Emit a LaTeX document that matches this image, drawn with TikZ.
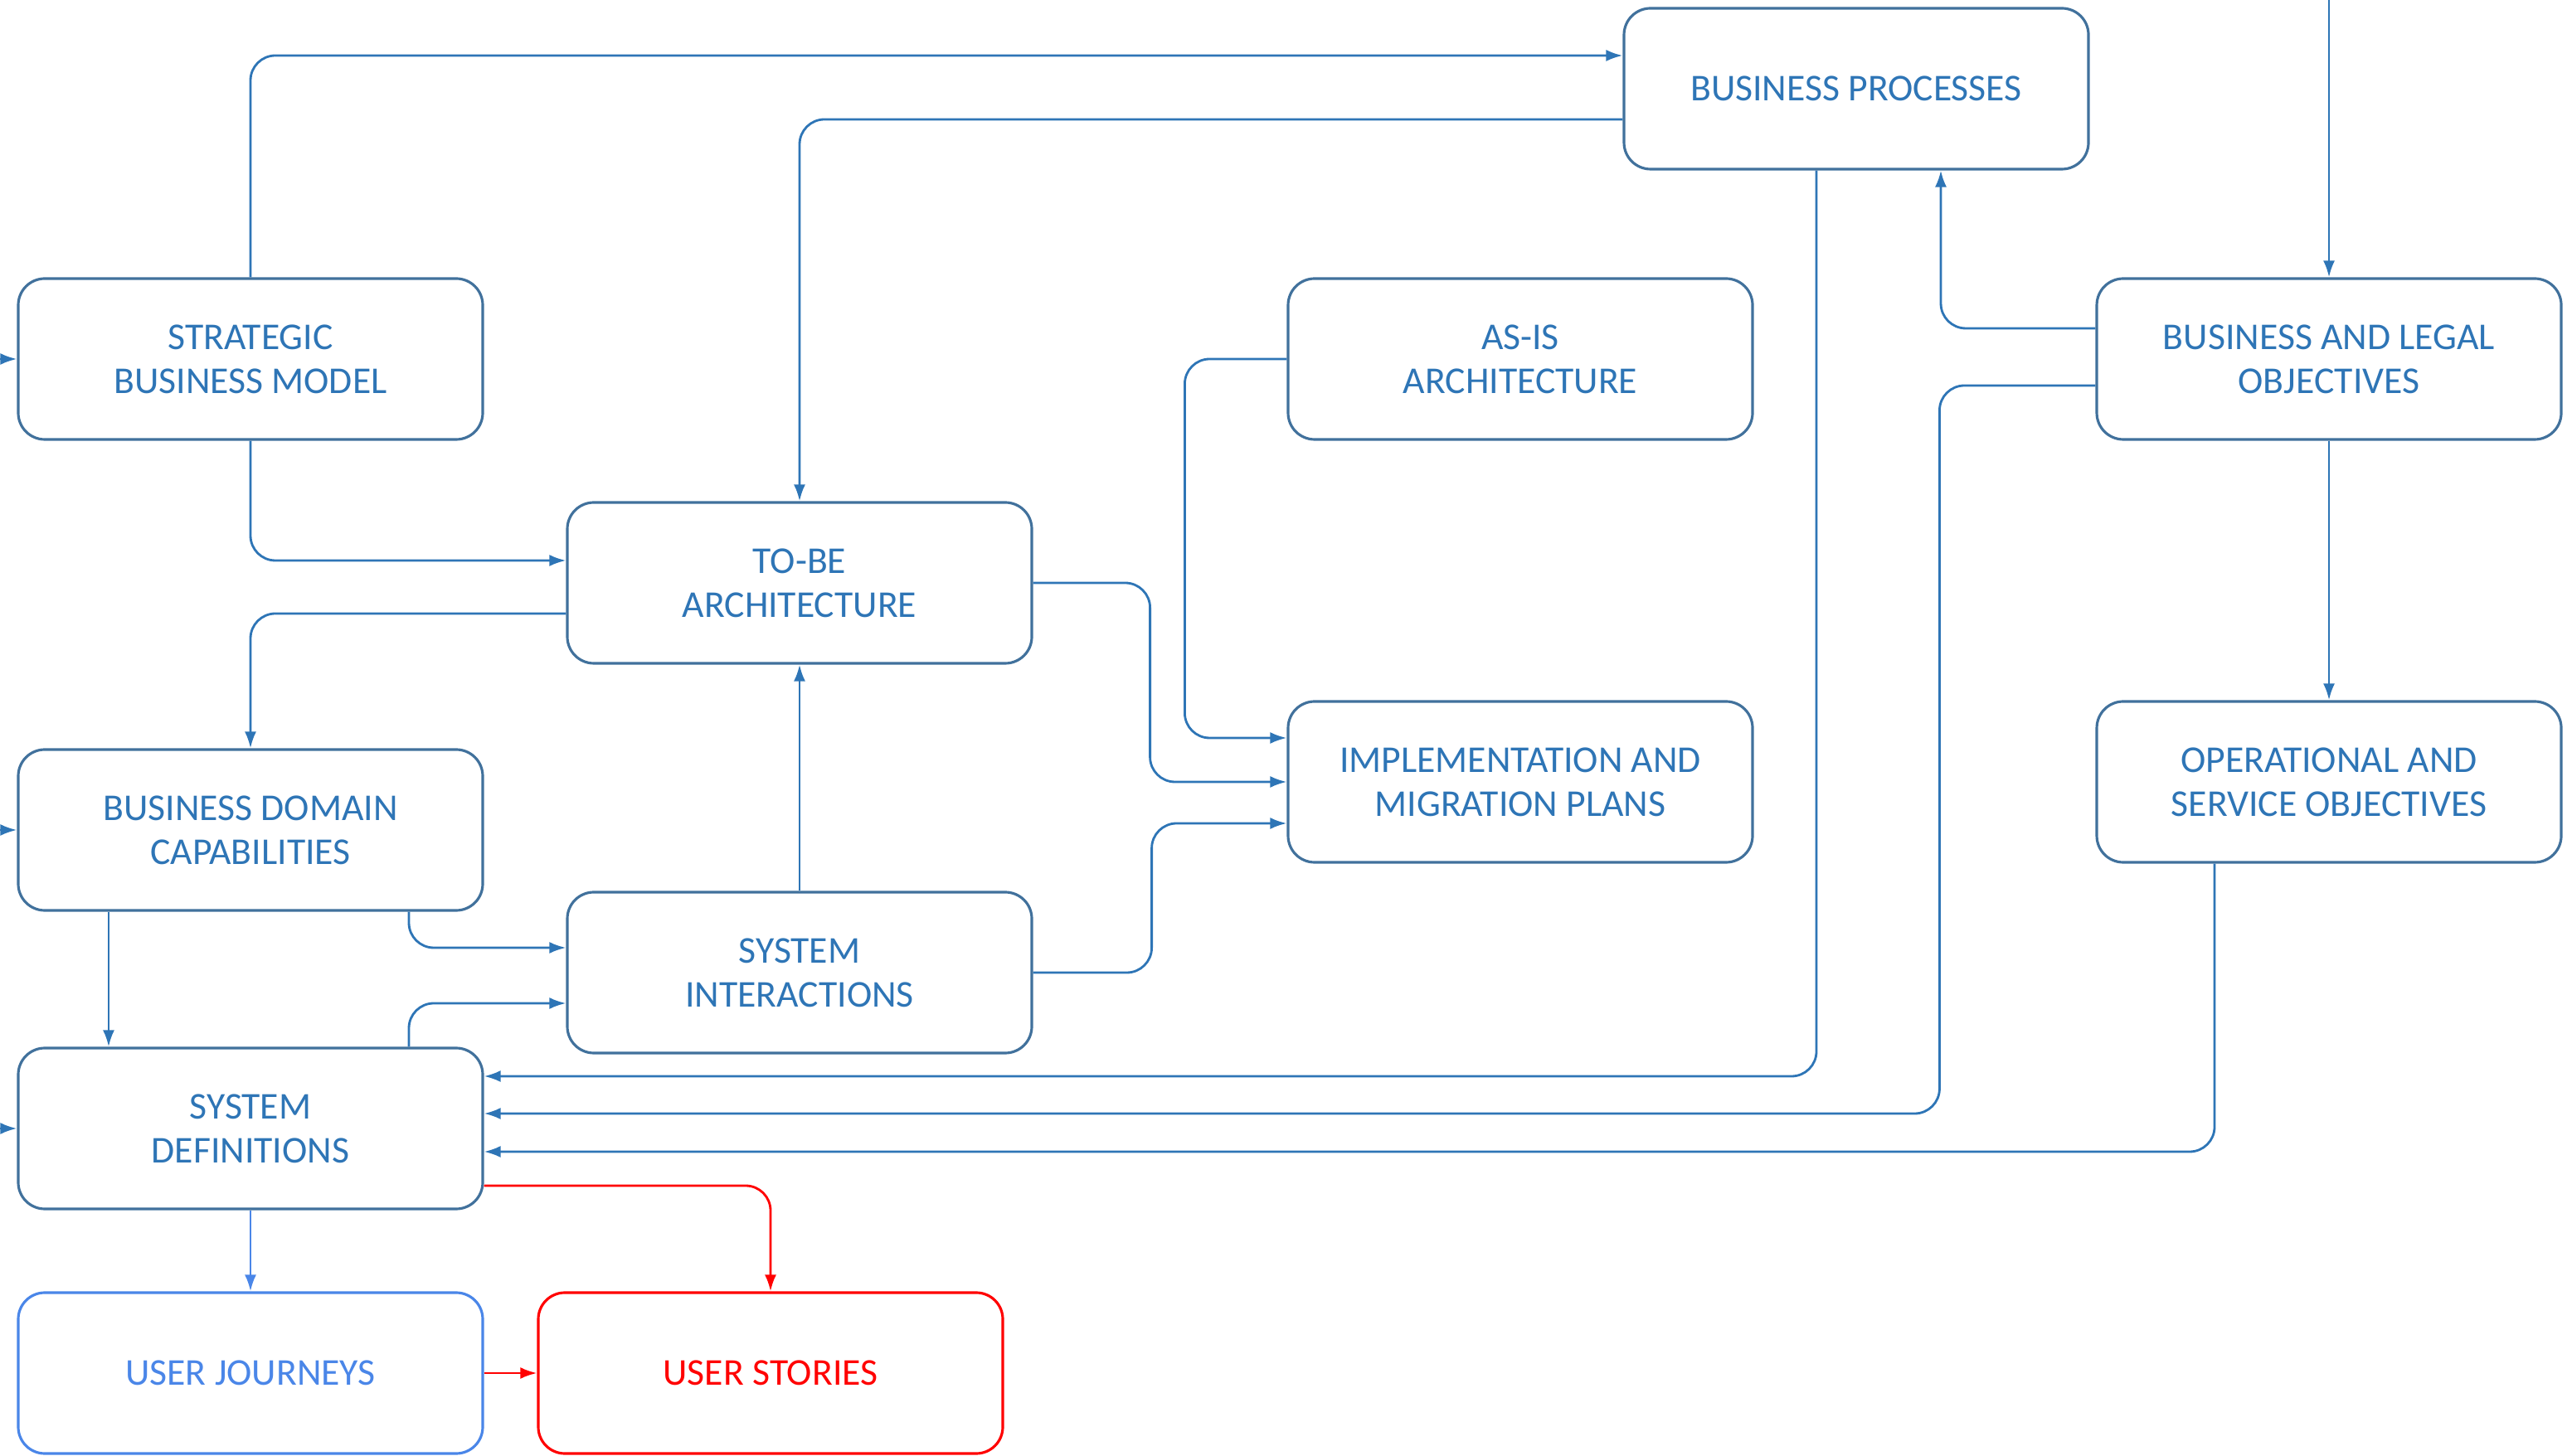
\documentclass[tikz,border=0pt]{standalone}
\usepackage{fontspec}
\setmainfont{Carlito}
\usetikzlibrary{arrows.meta}
\definecolor{boxline}{HTML}{41719C}
\definecolor{flowblue}{HTML}{2E75B6}
\definecolor{journeyblue}{HTML}{4A86E8}
\definecolor{storyred}{HTML}{FF0000}

\begin{document}
\begin{tikzpicture}[
		block/.style={draw=boxline, line width=0.9pt, rounded corners=0.32cm, minimum width=5.6cm, minimum height=1.94cm, inner sep=0pt, align=center, text=flowblue, font=\fontsize{13}{15}\selectfont},
		flow/.style={draw=flowblue, line width=0.8pt, rounded corners=0.3cm, -{Latex[length=2mm,width=1.4mm]}},
	]
		%%%%% START %%%%%
		
		\useasboundingbox (0, 0) rectangle (31.01, 17.55);
		
		\node[block] (bp) at (22.38, 16.48) {BUSINESS PROCESSES};
		\node[block] (sbm) at (3.02, 13.22) {STRATEGIC\\BUSINESS MODEL};
		\node[block] (asis) at (18.33, 13.22) {AS-IS\\ARCHITECTURE};
		\node[block] (blo) at (28.08, 13.22) {BUSINESS AND LEGAL\\OBJECTIVES};
		\node[block] (tobe) at (9.64, 10.52) {TO-BE\\ARCHITECTURE};
		\node[block] (bdc) at (3.02, 7.54) {BUSINESS DOMAIN\\CAPABILITIES};
		\node[block] (imp) at (18.33, 8.12) {IMPLEMENTATION AND\\MIGRATION PLANS};
		\node[block] (oso) at (28.08, 8.12) {OPERATIONAL AND\\SERVICE OBJECTIVES};
		\node[block] (si) at (9.64, 5.82) {SYSTEM\\INTERACTIONS};
		\node[block] (sd) at (3.02, 3.94) {SYSTEM\\DEFINITIONS};
		\node[block, draw=journeyblue, text=journeyblue] (uj) at (3.02, 0.99) {USER JOURNEYS};
		\node[block, draw=storyred, text=storyred] (us) at (9.29, 0.99) {USER STORIES};
		
		\coordinate (insbm) at (0, 13.22);
		\coordinate (inbdc) at (0, 7.54);
		\coordinate (insd) at (0, 3.94);
		\coordinate (inblo) at (28.08, 17.55);
		
		\draw[flow] (insbm) -- (sbm.west);
		\draw[flow] (inbdc) -- (bdc.west);
		\draw[flow] (insd) -- (sd.west);
		\draw[flow] (inblo) -- (blo.north);
		
		\draw[flow] (sbm.north) |- ([yshift=0.4cm]bp.west);
		\draw[flow] ([yshift=-0.37cm]bp.west) -| (tobe.north);
		\draw[flow] (sbm.south) |- ([yshift=0.27cm]tobe.west);
		\draw[flow] ([yshift=-0.37cm]tobe.west) -| (bdc.north);
		
		\draw[flow] (asis.west) -- ++(-1.23, 0) |- ([yshift=0.53cm]imp.west);
		\draw[flow] (tobe.east) -- ++(1.41, 0) |- (imp.west);
		\draw[flow] (si.east) -- ++(1.43, 0) |- ([yshift=-0.5cm]imp.west);
		\draw[flow] (si.north) -- (tobe.south);
		
		\draw[flow] ([xshift=1.91cm]bdc.south) |- ([yshift=0.3cm]si.west);
		\draw[flow] ([xshift=1.91cm]sd.north) |- ([yshift=-0.37cm]si.west);
		\draw[flow] ([xshift=-1.71cm]bdc.south) -- ([xshift=-1.71cm]sd.north);
		
		\draw[flow] ([xshift=-0.48cm]bp.south) |- ([yshift=0.63cm]sd.east);
		\draw[flow] ([yshift=-0.32cm]blo.west) -- ++(-1.88, 0) |- ([yshift=0.18cm]sd.east);
		\draw[flow] ([yshift=0.37cm]blo.west) -| ([xshift=1.02cm]bp.south);
		\draw[flow] (blo.south) -- (oso.north);
		\draw[flow] ([xshift=-1.38cm]oso.south) |- ([yshift=-0.28cm]sd.east);
		
		\draw[flow, draw=journeyblue] (sd.south) -- (uj.north);
		\draw[flow, draw=storyred] ([yshift=-0.69cm]sd.east) -| (us.north);
		\draw[flow, draw=storyred] (uj.east) -- (us.west);
		
		%%%%% END %%%%%
	\end{tikzpicture}
\end{document}
